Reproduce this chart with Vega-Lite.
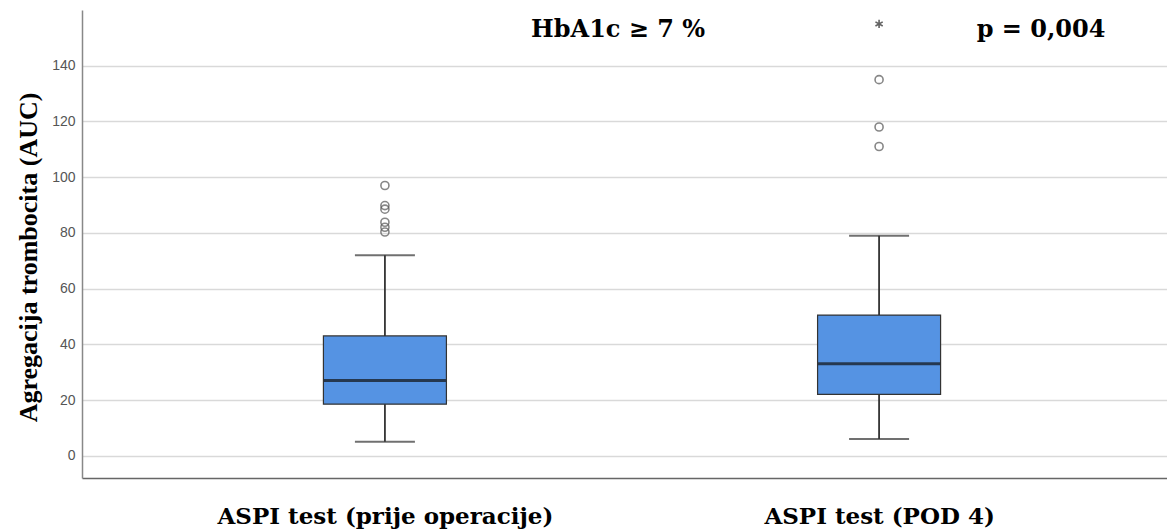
{
  "$schema": "https://vega.github.io/schema/vega-lite/v6.json",
  "width": 1100,
  "height": 468,
  "autosize": {"type": "none"},
  "padding": {"left": 82, "top": 10, "right": 0, "bottom": 53},
  "background": "white",
  "config": {"view": {"stroke": null}},
  "datasets": {
    "summary": [
      {"group": "ASPI test (prije operacije)", "lower": 5, "q1": 18.5, "median": 27, "q3": 43, "upper": 72},
      {"group": "ASPI test (POD 4)", "lower": 6, "q1": 22, "median": 33, "q3": 50.5, "upper": 79}
    ],
    "outliers": [
      {"group": "ASPI test (prije operacije)", "value": 97},
      {"group": "ASPI test (prije operacije)", "value": 89.8},
      {"group": "ASPI test (prije operacije)", "value": 88.5},
      {"group": "ASPI test (prije operacije)", "value": 83.8},
      {"group": "ASPI test (prije operacije)", "value": 82},
      {"group": "ASPI test (prije operacije)", "value": 80.3},
      {"group": "ASPI test (POD 4)", "value": 135},
      {"group": "ASPI test (POD 4)", "value": 118},
      {"group": "ASPI test (POD 4)", "value": 111}
    ],
    "extremes": [
      {"group": "ASPI test (POD 4)", "value": 155}
    ],
    "notes": [
      {"group": "ASPI test (POD 4)", "value": 152.8, "label": "HbA1c ≥ 7 %", "kind": "left"},
      {"group": "ASPI test (POD 4)", "value": 152.8, "label": "p = 0,004", "kind": "right"}
    ]
  },
  "encoding": {
    "x": {
      "field": "group",
      "type": "nominal",
      "sort": ["ASPI test (prije operacije)", "ASPI test (POD 4)"],
      "scale": {"type": "point", "padding": 0.613},
      "axis": {
        "title": null,
        "labelAngle": 0,
        "labelLimit": 0,
        "ticks": false,
        "domain": true,
        "domainColor": "#666666",
        "domainWidth": 1.5,
        "labelFont": "DejaVu Serif",
        "labelFontWeight": "bold",
        "labelFontSize": 23,
        "labelColor": "#000000",
        "labelPadding": 27,
        "labelBaseline": "top"
      }
    }
  },
  "layer": [
    {
      "data": {"name": "summary"},
      "mark": {"type": "rule", "color": "#333333", "strokeWidth": 1.8},
      "encoding": {
        "y": {
          "field": "lower",
          "type": "quantitative",
          "scale": {"domain": [-8, 160], "nice": false, "zero": false},
          "axis": {
            "title": "Agregacija trombocita (AUC)",
            "values": [0, 20, 40, 60, 80, 100, 120, 140],
            "grid": true,
            "gridColor": "#d9d9d9",
            "gridWidth": 1.5,
            "ticks": false,
            "domain": true,
            "domainColor": "#888888",
            "domainWidth": 1.5,
            "labelFont": "Liberation Sans",
            "labelFontSize": 14,
            "labelColor": "#555555",
            "labelPadding": 7,
            "titleFont": "Liberation Serif",
            "titleFontSize": 26,
            "titleFontWeight": "bold",
            "titleColor": "#000000",
            "titlePadding": 10,
            "titleY": 247
          }
        },
        "y2": {"field": "upper"}
      }
    },
    {
      "data": {"name": "summary"},
      "mark": {"type": "tick", "orient": "horizontal", "size": 60, "thickness": 2, "color": "#333333"},
      "encoding": {"y": {"field": "lower", "type": "quantitative"}}
    },
    {
      "data": {"name": "summary"},
      "mark": {"type": "tick", "orient": "horizontal", "size": 60, "thickness": 2, "color": "#333333"},
      "encoding": {"y": {"field": "upper", "type": "quantitative"}}
    },
    {
      "data": {"name": "summary"},
      "mark": {"type": "bar", "size": 123, "fill": "#5593e3", "stroke": "#333333", "strokeWidth": 1.2},
      "encoding": {
        "y": {"field": "q1", "type": "quantitative"},
        "y2": {"field": "q3"}
      }
    },
    {
      "data": {"name": "summary"},
      "mark": {"type": "tick", "orient": "horizontal", "size": 122, "thickness": 3, "color": "#111111"},
      "encoding": {"y": {"field": "median", "type": "quantitative"}}
    },
    {
      "data": {"name": "outliers"},
      "mark": {"type": "point", "shape": "circle", "filled": false, "stroke": "#555555", "strokeWidth": 1.6, "size": 65},
      "encoding": {"y": {"field": "value", "type": "quantitative"}}
    },
    {
      "data": {"name": "extremes"},
      "mark": {"type": "point", "shape": "M0,-1L0,1M-0.87,-0.5L0.87,0.5M-0.87,0.5L0.87,-0.5", "filled": false, "stroke": "#222222", "strokeWidth": 1.6, "size": 70},
      "encoding": {"y": {"field": "value", "type": "quantitative"}}
    },
    {
      "data": {"name": "notes"},
      "transform": [{"filter": "datum.kind === 'left'"}],
      "mark": {"type": "text", "font": "DejaVu Serif", "fontWeight": "bold", "fontSize": 24, "color": "#000000", "align": "center", "baseline": "middle", "dx": -261},
      "encoding": {
        "y": {"field": "value", "type": "quantitative"},
        "text": {"field": "label"}
      }
    },
    {
      "data": {"name": "notes"},
      "transform": [{"filter": "datum.kind === 'right'"}],
      "mark": {"type": "text", "font": "DejaVu Serif", "fontWeight": "bold", "fontSize": 24, "color": "#000000", "align": "center", "baseline": "middle", "dx": 162},
      "encoding": {
        "y": {"field": "value", "type": "quantitative"},
        "text": {"field": "label"}
      }
    }
  ]
}
